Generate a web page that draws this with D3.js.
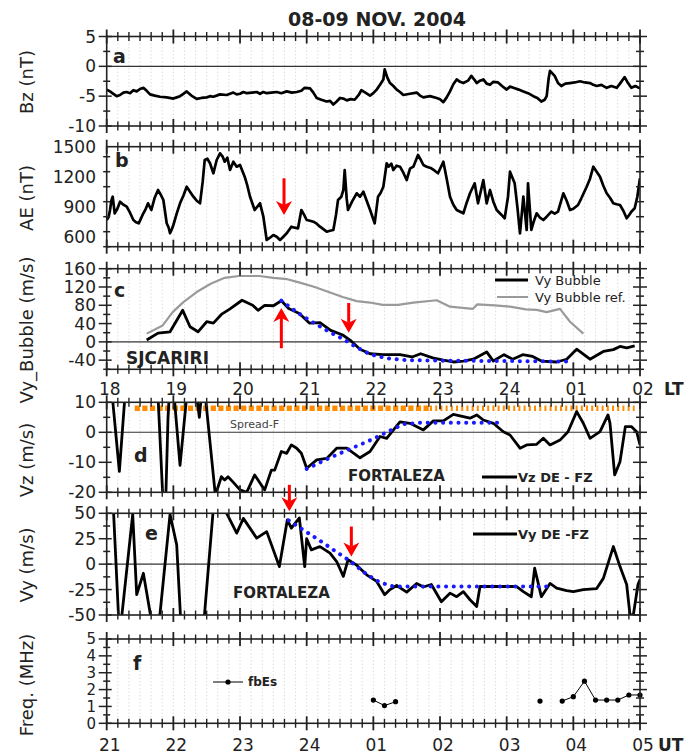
<!DOCTYPE html>
<html>
<head>
<meta charset="utf-8">
<script src="https://cdn.jsdelivr.net/npm/d3@7"></script>
<style>
	body { margin: 0; background: #fff; }
	svg { display: block; font-family: "DejaVu Sans", Verdana, sans-serif; }
</style>
</head>
<body>
<svg id="chart" width="699" height="754"></svg>
<script>
// time is in UT hours, 21 -> 29 (= 05 UT next day); LT = UT - 3
var ltLabels = ["18", "19", "20", "21", "22", "23", "24", "01", "02"];
var utLabels = ["21", "22", "23", "24", "01", "02", "03", "04", "05"];

var bzData = [[21.0,-3.9],[21.05,-4.2],[21.1,-4.6],[21.15,-5.0],[21.2,-4.8],[21.25,-4.4],[21.3,-4.3],[21.35,-4.5],[21.4,-4.0],[21.45,-4.2],[21.5,-3.8],[21.55,-3.6],[21.6,-4.1],[21.65,-4.7],[21.72,-4.9],[21.8,-5.1],[21.9,-5.2],[22.0,-5.4],[22.05,-5.2],[22.1,-5.0],[22.15,-4.6],[22.2,-4.2],[22.27,-4.9],[22.35,-5.45],[22.42,-5.3],[22.5,-5.2],[22.55,-5.0],[22.6,-5.1],[22.7,-4.7],[22.8,-4.8],[22.9,-4.4],[22.95,-4.7],[23.0,-4.6],[23.05,-4.3],[23.1,-4.5],[23.18,-4.4],[23.25,-4.3],[23.3,-4.6],[23.35,-4.3],[23.4,-4.5],[23.47,-4.4],[23.55,-4.3],[23.62,-4.5],[23.7,-4.2],[23.78,-4.4],[23.85,-4.3],[23.92,-4.1],[23.97,-3.6],[24.05,-3.7],[24.1,-4.4],[24.15,-5.3],[24.22,-5.6],[24.3,-5.9],[24.35,-5.8],[24.4,-6.4],[24.45,-5.9],[24.5,-5.3],[24.55,-5.4],[24.6,-5.7],[24.66,-5.5],[24.72,-5.6],[24.78,-4.8],[24.82,-4.0],[24.88,-4.4],[24.95,-4.9],[25.0,-4.5],[25.05,-3.9],[25.1,-3.1],[25.15,-2.2],[25.17,-0.5],[25.21,-1.9],[25.25,-2.8],[25.3,-3.3],[25.35,-3.9],[25.4,-4.3],[25.45,-4.8],[25.55,-4.6],[25.65,-4.4],[25.7,-4.9],[25.75,-5.2],[25.85,-5.0],[25.95,-5.3],[26.0,-5.5],[26.05,-6.0],[26.1,-5.2],[26.15,-4.2],[26.2,-3.0],[26.25,-2.2],[26.3,-2.6],[26.35,-2.8],[26.42,-2.4],[26.47,-1.6],[26.52,-2.3],[26.55,-2.8],[26.6,-2.4],[26.65,-2.2],[26.7,-2.9],[26.75,-3.1],[26.8,-2.6],[26.87,-2.7],[26.93,-3.3],[27.0,-3.9],[27.05,-3.4],[27.1,-3.6],[27.18,-3.9],[27.25,-4.2],[27.32,-4.5],[27.4,-5.0],[27.46,-5.3],[27.52,-5.9],[27.57,-5.6],[27.6,-5.0],[27.63,-2.0],[27.65,-0.75],[27.72,-1.6],[27.77,-2.8],[27.82,-3.3],[27.88,-2.9],[27.95,-2.8],[28.02,-2.7],[28.1,-2.5],[28.17,-2.7],[28.25,-2.8],[28.3,-3.1],[28.35,-3.3],[28.42,-3.1],[28.5,-3.6],[28.57,-3.3],[28.65,-3.6],[28.7,-2.9],[28.77,-1.8],[28.82,-2.8],[28.87,-3.6],[28.93,-3.3],[29.0,-3.7]];

var aeData = [[21.0,767],[21.03,800],[21.05,867],[21.07,960],[21.09,1000],[21.12,834],[21.16,880],[21.2,950],[21.25,920],[21.3,900],[21.35,840],[21.4,767],[21.44,745],[21.48,734],[21.52,790],[21.55,834],[21.58,870],[21.62,934],[21.67,867],[21.72,990],[21.77,1067],[21.81,1020],[21.85,967],[21.9,734],[21.93,690],[21.95,634],[21.98,680],[22.0,717],[22.05,830],[22.1,934],[22.15,1010],[22.2,1100],[22.25,1050],[22.3,1000],[22.35,960],[22.4,934],[22.44,1150],[22.47,1367],[22.51,1380],[22.55,1334],[22.6,1234],[22.65,1367],[22.7,1434],[22.74,1400],[22.77,1350],[22.81,1390],[22.85,1267],[22.9,1350],[22.95,1300],[23.0,1317],[23.07,1200],[23.11,1110],[23.15,1000],[23.22,867],[23.26,900],[23.3,934],[23.35,800],[23.4,567],[23.45,590],[23.5,617],[23.55,600],[23.6,567],[23.65,600],[23.7,634],[23.77,700],[23.82,690],[23.87,684],[23.92,867],[23.96,820],[24.0,767],[24.05,760],[24.1,750],[24.15,730],[24.2,700],[24.3,650],[24.35,660],[24.4,667],[24.44,820],[24.47,967],[24.52,1000],[24.55,1067],[24.57,1267],[24.6,980],[24.62,867],[24.68,950],[24.75,1034],[24.8,1000],[24.85,1050],[24.9,960],[24.95,870],[25.02,734],[25.07,1000],[25.11,1040],[25.15,1100],[25.2,1334],[25.23,1300],[25.27,1330],[25.3,1267],[25.35,1310],[25.4,1300],[25.45,1240],[25.5,1167],[25.55,1280],[25.6,1300],[25.67,1417],[25.71,1370],[25.75,1317],[25.8,1300],[25.87,1284],[25.92,1260],[25.97,1234],[26.05,1350],[26.1,1180],[26.15,1000],[26.2,920],[26.25,867],[26.35,834],[26.4,940],[26.45,1034],[26.52,1134],[26.57,934],[26.61,1050],[26.65,1167],[26.7,934],[26.75,1067],[26.8,950],[26.85,867],[26.92,820],[26.97,784],[27.02,1000],[27.05,1250],[27.12,1134],[27.16,900],[27.2,634],[27.25,1000],[27.3,667],[27.32,1134],[27.37,667],[27.41,760],[27.45,834],[27.5,790],[27.55,767],[27.6,800],[27.67,850],[27.72,830],[27.77,850],[27.85,1034],[27.9,960],[27.95,867],[28.0,880],[28.07,917],[28.12,984],[28.2,1100],[28.25,1180],[28.3,1300],[28.35,1250],[28.4,1200],[28.45,1110],[28.5,1034],[28.55,990],[28.6,934],[28.65,925],[28.7,917],[28.75,860],[28.8,784],[28.84,820],[28.87,850],[28.92,884],[28.96,1000],[29.0,1184]];

var vyBubble = [[21.60,4],[21.77,19],[21.95,22],[22.14,69],[22.25,33],[22.37,22],[22.5,44],[22.6,41],[22.72,60],[22.85,72],[23.03,91],[23.19,80],[23.27,69],[23.37,80],[23.50,79],[23.62,90],[23.73,73],[23.89,62],[24.04,41],[24.20,42],[24.36,25],[24.54,15],[24.65,4],[24.80,-16],[24.95,-26],[25.14,-28],[25.40,-28],[25.58,-33],[25.71,-26],[25.89,-35],[26.05,-40],[26.20,-44],[26.35,-42],[26.50,-38],[26.70,-22],[26.80,-42],[26.96,-28],[27.09,-38],[27.24,-28],[27.39,-32],[27.52,-42],[27.75,-44],[27.90,-38],[28.05,-16],[28.25,-38],[28.45,-21],[28.60,-17],[28.70,-10],[28.80,-13],[28.92,-9]];

var vyBubbleRef = [[21.60,18],[21.84,36],[21.99,65],[22.15,87],[22.35,109],[22.56,127],[22.77,140],[22.98,144],[23.29,144],[23.50,140],[23.71,137],[23.91,129],[24.12,120],[24.33,109],[24.54,98],[24.75,89],[24.95,86],[25.14,81],[25.37,81],[25.6,86],[25.95,91],[26.15,77],[26.49,72],[26.56,82],[26.82,80],[27.05,77],[27.29,71],[27.45,70],[27.6,65],[27.8,72],[27.95,44],[28.15,18]];

var vyBubbleFit = [[23.62,90],[23.85,65],[24.10,42],[24.35,21],[24.55,6],[24.75,-12],[24.95,-27],[25.2,-36],[25.5,-40],[26.0,-41],[27.0,-42],[27.97,-43]];

var vzData = [[21.0,30],[21.05,20],[21.19,-13],[21.3,20],[21.35,30],[21.72,30],[21.77,12],[21.87,-35],[21.92,5],[21.97,25],[22.02,10],[22.1,-11],[22.2,12],[22.25,30],[22.35,12],[22.39,5],[22.42,12],[22.45,30],[22.48,12],[22.63,-21],[22.72,-14.8],[22.77,-15.9],[22.82,-14.8],[22.9,-16.7],[23.0,-19.2],[23.1,-20],[23.22,-14.2],[23.32,-17.6],[23.37,-19.2],[23.47,-12.6],[23.52,-12.6],[23.62,-6.4],[23.70,-7],[23.77,-4.2],[23.85,-5.3],[23.92,-7],[24.0,-12],[24.15,-9.2],[24.3,-8.7],[24.45,-5.3],[24.6,-5.3],[24.8,-8.5],[24.95,-6.4],[25.1,-1.4],[25.2,-2],[25.32,1.3],[25.4,3.5],[25.55,3],[25.75,0.8],[25.9,3.8],[26.05,3.8],[26.2,6],[26.35,5.2],[26.45,4.7],[26.55,5.8],[26.65,4.1],[26.8,3],[26.95,0.2],[27.05,-0.9],[27.2,-5.3],[27.3,-4.2],[27.45,-4],[27.55,-2],[27.65,-4.2],[27.8,-2.6],[27.92,0.2],[28.05,6.9],[28.15,3],[28.25,-2],[28.4,0.2],[28.52,5.8],[28.55,3],[28.62,-14.2],[28.7,-9.8],[28.78,1.9],[28.87,1.9],[28.95,0.2],[29.0,-4.2]];

var vzFit = [[24.0,-12.2],[24.3,-9],[24.6,-6],[24.9,-3.2],[25.2,0],[25.45,2.7],[25.7,3.2],[26.9,3.2]];

var vyData = [[21.0,60],[21.1,55],[21.18,-55],[21.22,-55],[21.39,49],[21.45,-30],[21.55,-9],[21.67,-55],[21.79,-55],[21.95,49],[22.05,19],[22.11,-55],[22.46,-55],[22.6,55],[22.8,50],[22.95,30.5],[23.05,45],[23.25,25.6],[23.4,32],[23.59,-2.4],[23.71,43.6],[23.77,35.4],[23.89,45.5],[23.97,-2.4],[24.0,25],[24.07,14],[24.2,17.3],[24.35,10.8],[24.45,2.6],[24.55,-12],[24.62,4.3],[24.75,-1],[24.9,-10.5],[25.05,-17],[25.17,-30],[25.25,-25],[25.35,-21],[25.5,-27.5],[25.65,-19],[25.75,-22.5],[25.87,-20],[26.02,-37],[26.15,-28.5],[26.25,-32],[26.35,-27],[26.45,-35],[26.55,-41.7],[26.6,-22],[26.75,-22],[27.05,-22],[27.15,-22],[27.25,-27],[27.37,-32],[27.42,-4],[27.52,-32],[27.65,-19],[27.75,-23.6],[27.9,-26],[28.0,-27],[28.15,-25],[28.35,-24],[28.45,-14],[28.6,17.3],[28.7,-2.4],[28.8,-20],[28.85,-50],[28.9,-50],[28.97,-20],[29.0,-15]];

var vyFit = [[23.73,43],[24.2,23],[24.65,3],[24.9,-10],[25.1,-18],[25.3,-22],[27.65,-22]];

// fbEs every 10 min, null = no echo
var fbEsData = [[25.0,1.38],[25.167,1.05],[25.333,1.28],[25.5,null],[27.5,1.32],[27.667,null],[27.833,1.32],[28.0,1.58],[28.167,2.5],[28.333,1.38],[28.5,1.38],[28.667,1.38],[28.833,1.68],[29.0,1.68]];

// spread-F occurrence (start, end, kind), drawn at 8 m/s in panel d
var spreadF = [[21.42, 25.85, "strong"], [25.85, 28.92, "weak"]];

// red arrows: panel, time, from value, to value
var arrows = [["b", 23.66, 1184, 817], ["c", 23.62, -14, 74], ["c", 24.63, 85, 20], ["e", 23.74, 78, 52], ["e", 24.67, 37, 7.5]];

var svg = d3.select("#chart");
var x = d3.scaleLinear().domain([21, 29]).range([106.7, 640]);

var hourTicks = d3.range(21, 29.001, 1);
var minorTimeTicks = d3.range(0, 49).map(function (i) { return 21 + i / 6; });

var panels = [
	{ id: "a", domain: [-10, 5], range: [126, 36.5], labels: [-10, -5, 0, 5], step: 2.5, title: "Bz (nT)", ty: 82, zero: true, lx: 113, ly: 63, fs: 17 },
	{ id: "b", domain: [500, 1500], range: [246.7, 146.7], labels: [600, 900, 1200, 1500], step: 150, title: "AE (nT)", ty: 198, zero: false, lx: 115, ly: 167, fs: 17 },
	{ id: "c", domain: [-60, 160], range: [369.3, 268.7], labels: [-40, 0, 40, 80, 120, 160], step: 20, title: "Vy_Bubble (m/s)", ty: 330, zero: true, lx: 114, ly: 297, fs: 17 },
	{ id: "d", domain: [-20, 10], range: [492.3, 402.3], labels: [-20, -10, 0, 10], step: 5, title: "Vz (m/s)", ty: 460, zero: true, lx: 134, ly: 462, fs: 17 },
	{ id: "e", domain: [-50, 50], range: [615, 513.3], labels: [-50, -25, 0, 25, 50], step: 12.5, title: "Vy (m/s)", ty: 565, zero: true, lx: 145, ly: 540, fs: 17 },
	{ id: "f", domain: [0, 5], range: [723.3, 639], labels: [0, 1, 2, 3, 4, 5], step: 0.5, title: "Freq. (MHz)", ty: 685, zero: false, lx: 133, ly: 670, fs: 15 }
];

var P = {};
panels.forEach(function (p) {
	p.y = d3.scaleLinear().domain(p.domain).range(p.range);
	p.g = svg.append("g").attr("class", "panel-" + p.id);
	p.top = p.range[1];
	p.bottom = p.range[0];
	p.clip = "clip-" + p.id;
	svg.append("clipPath").attr("id", p.clip)
		.append("rect")
		.attr("x", x.range()[0]).attr("y", p.top)
		.attr("width", x.range()[1] - x.range()[0]).attr("height", p.bottom - p.top);
	P[p.id] = p;

	// faint dotted grid every 10 min
	p.g.append("g")
		.selectAll("line")
		.data(minorTimeTicks.slice(1, -1))
		.join("line")
		.attr("x1", d => x(d)).attr("x2", d => x(d))
		.attr("y1", p.top).attr("y2", p.bottom)
		.attr("stroke", "#d6d6d6")
		.attr("stroke-width", 0.8)
		.attr("stroke-dasharray", "1.5 2");

	if (p.zero) {
		p.g.append("line")
			.attr("x1", x.range()[0]).attr("x2", x.range()[1])
			.attr("y1", p.y(0)).attr("y2", p.y(0))
			.attr("stroke", "#333").attr("stroke-width", 1.1);
	}
});

function lineOf(p, data) {
	return d3.line()
		.defined(d => d[1] !== null)
		.x(d => x(d[0]))
		.y(d => p.y(d[1]))(data);
}

function plotLine(p, data, colour, width, dash) {
	var path = p.g.append("path")
		.attr("clip-path", "url(#" + p.clip + ")")
		.attr("d", lineOf(p, data))
		.attr("fill", "none")
		.attr("stroke", colour)
		.attr("stroke-width", width)
		.attr("stroke-linejoin", "round");
	if (dash) {
		path.attr("stroke-dasharray", dash).attr("stroke-linecap", "round");
	}
	return path;
}

// spread-F band
spreadF.forEach(function (s) {
	P.d.g.append("line")
		.attr("x1", x(s[0])).attr("x2", x(s[1]))
		.attr("y1", P.d.y(8)).attr("y2", P.d.y(8))
		.attr("stroke", "#ff8c00")
		.attr("stroke-width", 5.5)
		.attr("stroke-dasharray", s[2] == "strong" ? "5.2 2.4" : "2 3.2");
});

plotLine(P.a, bzData, "#000", 2.7);
plotLine(P.b, aeData, "#000", 2.7);
plotLine(P.c, vyBubbleRef, "#9a9a9a", 2.2);
plotLine(P.c, vyBubble, "#000", 2.8);
plotLine(P.c, vyBubbleFit, "#1a1aff", 4, "0.1 7.6");
plotLine(P.d, vzData, "#000", 2.8);
plotLine(P.d, vzFit, "#1a1aff", 4, "0.1 7.6");
plotLine(P.e, vyData, "#000", 2.8);
plotLine(P.e, vyFit, "#1a1aff", 4, "0.1 7.6");
plotLine(P.f, fbEsData, "#000", 1);

P.f.g.append("g")
	.selectAll("circle")
	.data(fbEsData.filter(d => d[1] !== null))
	.join("circle")
	.attr("cx", d => x(d[0]))
	.attr("cy", d => P.f.y(d[1]))
	.attr("r", 2.6)
	.attr("fill", "#000");

// frames and crossing ticks
function isHour(d) { return hourTicks.indexOf(Math.round(d * 1000) / 1000) >= 0; }

panels.forEach(function (p) {
	var g = p.g.append("g").attr("stroke", "#222");
	var x0 = x.range()[0], x1 = x.range()[1];

	g.append("rect")
		.attr("x", x0).attr("y", p.top)
		.attr("width", x1 - x0).attr("height", p.bottom - p.top)
		.attr("fill", "none").attr("stroke-width", 1.6);

	[p.top, p.bottom].forEach(function (yy) {
		g.append("g").selectAll("line")
			.data(minorTimeTicks)
			.join("line")
			.attr("x1", d => x(d)).attr("x2", d => x(d))
			.attr("y1", d => yy - (isHour(d) ? 7 : 4.5))
			.attr("y2", d => yy + (isHour(d) ? 7 : 4.5))
			.attr("stroke-width", d => isHour(d) ? 1.8 : 1.4);
	});

	var yTicks = d3.range(p.domain[0], p.domain[1] + 1e-9, p.step);
	[x0, x1].forEach(function (xx, side) {
		g.append("g").selectAll("line")
			.data(yTicks)
			.join("line")
			.attr("y1", d => p.y(d)).attr("y2", d => p.y(d))
			.attr("x1", d => {
				var big = p.labels.indexOf(d) >= 0;
				return side == 0 ? xx - (big ? 8 : 3.5) : xx - (big ? 7 : 4);
			})
			.attr("x2", d => {
				var big = p.labels.indexOf(d) >= 0;
				return side == 0 ? xx + (big ? 5 : 3.5) : xx + (big ? 7 : 4);
			})
			.attr("stroke-width", 1.5);
	});

	p.g.append("g")
		.selectAll("text")
		.data(p.labels)
		.join("text")
		.attr("x", 96)
		.attr("y", d => p.y(d))
		.attr("dy", "0.36em")
		.attr("text-anchor", "end")
		.attr("font-size", p.fs)
		.attr("fill", "#222")
		.text(d => d);

	p.g.append("text")
		.attr("transform", "translate(33," + p.ty + ") rotate(-90)")
		.attr("text-anchor", "middle")
		.attr("font-size", 18)
		.attr("fill", "#222")
		.text(p.title);

	p.g.append("text")
		.attr("x", p.lx).attr("y", p.ly)
		.attr("font-size", 19)
		.attr("font-weight", "bold")
		.attr("fill", "#222")
		.text(p.id);
});

// time axis labels
svg.append("g")
	.selectAll("text")
	.data(hourTicks)
	.join("text")
	.attr("x", d => x(d) + 3)
	.attr("y", 395)
	.attr("text-anchor", "middle")
	.attr("font-size", 17)
	.attr("fill", "#222")
	.text((d, i) => ltLabels[i]);
svg.append("g")
	.selectAll("text")
	.data(hourTicks)
	.join("text")
	.attr("x", d => x(d) + 3)
	.attr("y", 751)
	.attr("text-anchor", "middle")
	.attr("font-size", 17)
	.attr("fill", "#222")
	.text((d, i) => utLabels[i]);
svg.append("text").attr("x", 664).attr("y", 395).attr("font-size", 17).attr("font-weight", "bold").attr("fill", "#222").text("LT");
svg.append("text").attr("x", 658).attr("y", 751).attr("font-size", 17).attr("font-weight", "bold").attr("fill", "#222").text("UT");

svg.append("text")
	.attr("x", 377).attr("y", 26)
	.attr("text-anchor", "middle")
	.attr("font-size", 19)
	.attr("font-weight", "bold")
	.attr("fill", "#222")
	.text("08-09 NOV. 2004");

// station names and notes
function label(txt, xx, yy, size, bold, colour) {
	svg.append("text")
		.attr("x", xx).attr("y", yy)
		.attr("font-size", size)
		.attr("font-weight", bold ? "bold" : "normal")
		.attr("fill", colour || "#222")
		.text(txt);
}
label("SJCARIRI", 126, 364, 17, true);
label("FORTALEZA", 348, 481, 15, true);
label("FORTALEZA", 233, 598, 15, true);
label("Spread-F", 230, 428, 11, false, "#444");

// legends
function legendLine(x1, x2, yy, colour, width) {
	svg.append("line")
		.attr("x1", x1).attr("x2", x2).attr("y1", yy).attr("y2", yy)
		.attr("stroke", colour).attr("stroke-width", width);
}
legendLine(495, 528, 280, "#000", 3);
label("Vy Bubble", 535, 284.5, 13, false);
legendLine(497, 528, 297, "#9a9a9a", 2);
label("Vy Bubble ref.", 535, 301.5, 13, false);
legendLine(482, 517, 477, "#000", 3);
label("Vz DE - FZ", 518, 481.5, 13, true);
legendLine(473, 517, 534, "#000", 3);
label("Vy DE -FZ", 518, 538.5, 13, true);
legendLine(213, 243, 682, "#000", 1);
svg.append("circle").attr("cx", 228).attr("cy", 682).attr("r", 2.6).attr("fill", "#000");
label("fbEs", 248, 686, 12, true);

// red arrows
arrows.forEach(function (a) {
	var p = P[a[0]];
	var xx = x(a[1]), y1 = p.y(a[2]), y2 = p.y(a[3]);
	var dir = y2 > y1 ? 1 : -1;
	var headLen = 14, half = 8;
	var g = svg.append("g").attr("fill", "#ff0000").attr("stroke", "#ff0000");
	g.append("line")
		.attr("x1", xx).attr("x2", xx)
		.attr("y1", y1).attr("y2", y2 - dir * 10)
		.attr("stroke-width", 3);
	g.append("path")
		.attr("stroke", "none")
		.attr("d", "M" + xx + "," + y2 +
			"L" + (xx - half) + "," + (y2 - dir * headLen) +
			"L" + xx + "," + (y2 - dir * (headLen - 4)) +
			"L" + (xx + half) + "," + (y2 - dir * headLen) + "Z");
});
</script>
</body>
</html>
